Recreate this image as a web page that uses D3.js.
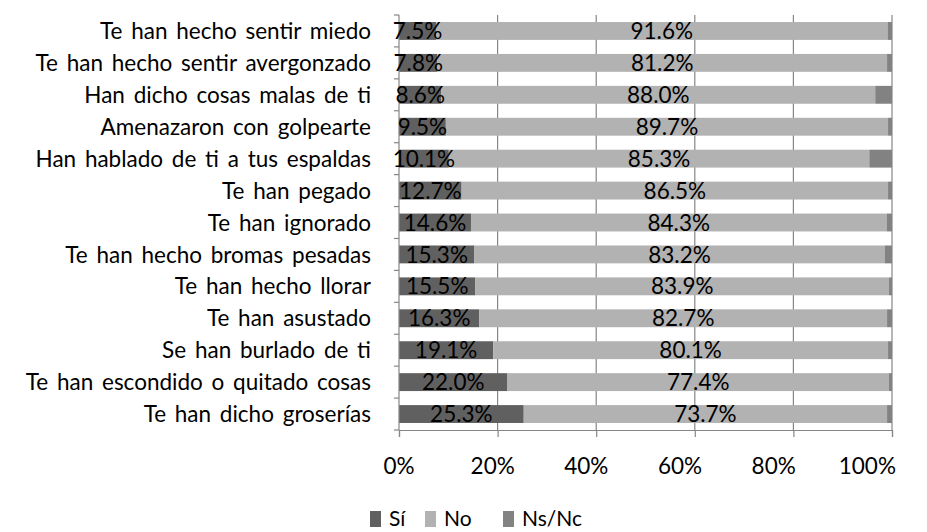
<!DOCTYPE html>
<html>
<head>
<meta charset="utf-8">
<script src="https://cdnjs.cloudflare.com/ajax/libs/d3/7.8.5/d3.min.js"></script>
<style>
  body { margin: 0; background: #fff; }
  text { font-family: Lato, "Open Sans", sans-serif; fill: #000; }
</style>
</head>
<body>
<div id="chart"></div>
<script>
// categories, top to bottom
var categories = [
  "Te han hecho sentir miedo",
  "Te han hecho sentir avergonzado",
  "Han dicho cosas malas de ti",
  "Amenazaron con golpearte",
  "Han hablado de ti a tus espaldas",
  "Te han pegado",
  "Te han ignorado",
  "Te han hecho bromas pesadas",
  "Te han hecho llorar",
  "Te han asustado",
  "Se han burlado de ti",
  "Te han escondido o quitado cosas",
  "Te han dicho groserías"
];

var si   = [7.5, 7.8, 8.6, 9.5, 10.1, 12.7, 14.6, 15.3, 15.5, 16.3, 19.1, 22.0, 25.3];
var no   = [91.6, 91.2, 88.0, 89.7, 85.3, 86.5, 84.3, 83.2, 83.9, 82.7, 80.1, 77.4, 73.7];
var nsnc = [0.9, 1.0, 3.4, 0.8, 4.6, 0.8, 1.1, 1.5, 0.6, 1.0, 0.8, 0.6, 1.0];

// label text as printed on the chart
var siLabels = ["7.5%", "7.8%", "8.6%", "9.5%", "10.1%", "12.7%", "14.6%", "15.3%", "15.5%", "16.3%", "19.1%", "22.0%", "25.3%"];
var noLabels = ["91.6%", "81.2%", "88.0%", "89.7%", "85.3%", "86.5%", "84.3%", "83.2%", "83.9%", "82.7%", "80.1%", "77.4%", "73.7%"];

var xTicks = [0, 20, 40, 60, 80, 100];
var seriesNames = ["Sí", "No", "Ns/Nc"];
var colors = ["#606060", "#b2b2b2", "#828282"];

var svgWidth = 927;
var svgHeight = 532;
var fontSize = "22.5px";

var margin = { top: 15, left: 399, right: 35, bottom: 102 };
var width = svgWidth - margin.left - margin.right;
var height = svgHeight - margin.top - margin.bottom;

var svg = d3.select("#chart")
  .append("svg")
  .attr("width", svgWidth)
  .attr("height", svgHeight);

var chartGroup = svg.append("g")
  .attr("transform", `translate(${margin.left}, ${margin.top})`);

var x = d3.scaleLinear().domain([0, 100]).range([0, width]);
// tick labels sit a bit tighter than the gridlines in the original
var xLabel = d3.scaleLinear().domain([0, 100]).range([0, width * 0.95]);
var y = d3.scaleBand().domain(categories).range([0, height]).paddingInner(0.44).paddingOuter(0.22);

// gridlines
chartGroup.selectAll(".grid")
  .data(xTicks.slice(1))
  .enter()
  .append("line")
  .attr("x1", d => x(d)).attr("x2", d => x(d))
  .attr("y1", 0).attr("y2", height)
  .attr("stroke", "#868686")
  .attr("stroke-width", 1.2);

// stacked bars
var rows = categories.map((c, i) => ({ cat: c, vals: [si[i], no[i], nsnc[i]] }));
rows.forEach(r => {
  var start = 0;
  r.vals.forEach((v, k) => {
    chartGroup.append("rect")
      .attr("x", x(start))
      .attr("y", y(r.cat))
      .attr("width", x(start + v) - x(start))
      .attr("height", y.bandwidth())
      .attr("fill", colors[k]);
    start += v;
  });
});

// left axis with ticks between categories
chartGroup.append("line")
  .attr("x1", 0).attr("x2", 0).attr("y1", 0).attr("y2", height)
  .attr("stroke", "#868686").attr("stroke-width", 1.2);
d3.range(categories.length + 1).forEach(i => {
  chartGroup.append("line")
    .attr("x1", -5).attr("x2", 0)
    .attr("y1", i * height / categories.length).attr("y2", i * height / categories.length)
    .attr("stroke", "#868686").attr("stroke-width", 1.2);
});

// bottom axis
var bottomAxis = d3.axisBottom(x)
  .tickValues(xTicks)
  .tickSize(7)
  .tickFormat("");
var xAxis = chartGroup.append("g")
  .attr("transform", `translate(0, ${height})`)
  .call(bottomAxis);
xAxis.select(".domain").attr("stroke", "#868686").attr("stroke-width", 1.2);
xAxis.selectAll(".tick line").attr("stroke", "#868686").attr("stroke-width", 1.2);

chartGroup.selectAll(".xlab")
  .data(xTicks)
  .enter()
  .append("text")
  .attr("x", d => xLabel(d))
  .attr("y", height + 44)
  .attr("text-anchor", "middle")
  .attr("font-size", fontSize)
  .text(d => d + "%");

// category labels
chartGroup.selectAll(".cat")
  .data(categories)
  .enter()
  .append("text")
  .attr("x", -28)
  .attr("y", d => y(d) + y.bandwidth() / 2)
  .attr("dy", "0.36em")
  .attr("text-anchor", "end")
  .attr("font-size", fontSize)
  .style("word-spacing", "3px")
  .text(d => d);

// data labels
rows.forEach((r, i) => {
  chartGroup.append("text")
    .attr("x", x(si[i] / 2))
    .attr("y", y(r.cat) + y.bandwidth() / 2)
    .attr("dy", "0.36em")
    .attr("text-anchor", "middle")
    .attr("font-size", fontSize)
    .text(siLabels[i]);
  chartGroup.append("text")
    .attr("x", x(si[i] + no[i] / 2))
    .attr("y", y(r.cat) + y.bandwidth() / 2)
    .attr("dy", "0.36em")
    .attr("text-anchor", "middle")
    .attr("font-size", fontSize)
    .text(noLabels[i]);
});

// legend
var legendX = [370, 425, 503];
var legend = svg.append("g");
seriesNames.forEach((s, k) => {
  legend.append("rect")
    .attr("x", legendX[k]).attr("y", 511)
    .attr("width", 11).attr("height", 16)
    .attr("fill", colors[k]);
  legend.append("text")
    .attr("x", legendX[k] + 19).attr("y", 526)
    .attr("font-size", "21px")
    .text(s);
});
</script>
</body>
</html>
